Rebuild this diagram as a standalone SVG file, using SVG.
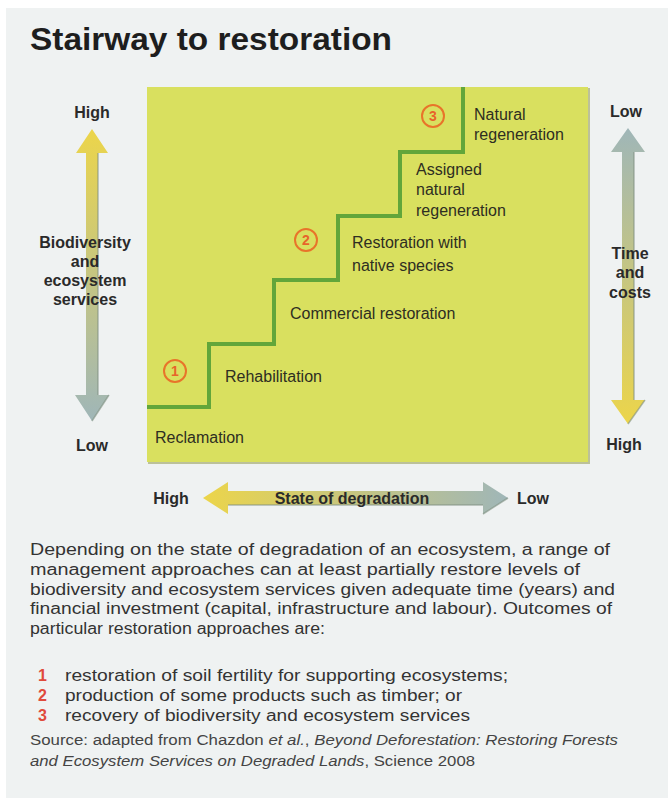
<svg xmlns="http://www.w3.org/2000/svg" width="668" height="798" viewBox="0 0 668 798">
<defs>
<style>
.lbl{font-family:"Liberation Sans",Arial,sans-serif;font-size:16px;fill:#2e2e22}
.ax{font-family:"Liberation Sans",Arial,sans-serif;font-size:16px;font-weight:bold;fill:#2a2a2a;text-anchor:middle}
.body{font-family:"Liberation Sans",Arial,sans-serif;font-size:16px;fill:#333}
.src{font-family:"Liberation Sans",Arial,sans-serif;font-size:14px;fill:#444}
.num{font-family:"Liberation Sans",Arial,sans-serif;font-size:16px;fill:#e04a3c;font-weight:bold}
.circ{fill:none;stroke:#e8742a;stroke-width:2}
.ctext{font-family:"Liberation Sans",Arial,sans-serif;font-size:14px;fill:#e8642a;text-anchor:middle;font-weight:bold}
.edge{fill:none;stroke:#7f8f80;stroke-width:1.5;opacity:0.6}
</style>
<linearGradient id="gUp" x1="0" y1="0" x2="0" y2="1">
<stop offset="0" stop-color="#ecd54a"/><stop offset="1" stop-color="#9fb6b8"/>
</linearGradient>
<linearGradient id="gDown" x1="0" y1="0" x2="0" y2="1">
<stop offset="0" stop-color="#9fb6b8"/><stop offset="1" stop-color="#ecd54a"/>
</linearGradient>
<linearGradient id="gH" x1="0" y1="0" x2="1" y2="0">
<stop offset="0" stop-color="#ecd54a"/><stop offset="1" stop-color="#9fb6b8"/>
</linearGradient>
</defs>
<rect x="0" y="0" width="668" height="798" fill="#ffffff"/>
<rect x="6" y="8" width="662" height="790" fill="#eff2f2"/>
<text x="30" y="50" style="font-family:'Liberation Sans',Arial,sans-serif;font-size:32px;font-weight:bold;fill:#1e1e1e" textLength="362" lengthAdjust="spacingAndGlyphs">Stairway to restoration</text>

<g id="panel">
<rect x="148" y="88" width="442" height="376" fill="#8a8f40" opacity="0.5"/>
<rect x="147" y="87" width="441" height="375" fill="#d9e05f"/>
</g>

<g id="connectors">
<path d="M147 407 H209 V344 H274 V280 H338 V216 H400 V152 H463 V87" fill="none" stroke="#62a63a" stroke-width="4"/>
<path id="bioArrow" d="M92 129 L108 153 L98 153 L98 395 L109 395 L92 421 L75 395 L86 395 L86 153 L76 153 Z" fill="url(#gUp)"/>
<path d="M98 153 L98 395 M109 395 L92 421" class="edge"/>
<path id="timeArrow" d="M628 128 L645 152 L634 152 L634 400 L645 400 L628 424 L611 400 L622 400 L622 152 L611 152 Z" fill="url(#gDown)"/>
<path d="M634 152 L634 400 M645 400 L628 424" class="edge"/>
<path id="degArrow" d="M203 498 L228 482 L228 491 L483 491 L483 482 L508 498 L483 514 L483 505 L228 505 L228 514 Z" fill="url(#gH)"/>
<path d="M228 505 L483 505 M508 498 L483 514" class="edge"/>
</g>

<g id="step1">
<circle class="circ" cx="175" cy="371" r="11"/>
<text class="ctext" x="175" y="376">1</text>
</g>
<g id="step2">
<circle class="circ" cx="306" cy="240" r="11"/>
<text class="ctext" x="306" y="245">2</text>
</g>
<g id="step3">
<circle class="circ" cx="433" cy="116" r="11"/>
<text class="ctext" x="433" y="121">3</text>
</g>

<g id="natural"><text class="lbl" x="474" y="120">Natural</text><text class="lbl" x="474" y="140">regeneration</text></g>
<g id="assigned"><text class="lbl" x="416" y="175">Assigned</text><text class="lbl" x="416" y="195">natural</text><text class="lbl" x="416" y="216">regeneration</text></g>
<g id="native"><text class="lbl" x="352" y="248">Restoration with</text><text class="lbl" x="352" y="271">native species</text></g>
<g id="commercial"><text class="lbl" x="290" y="319">Commercial restoration</text></g>
<g id="rehab"><text class="lbl" x="225" y="382">Rehabilitation</text></g>
<g id="reclam"><text class="lbl" x="155" y="443">Reclamation</text></g>

<g id="bioAxis">
<text class="ax" x="92" y="118">High</text>
<text class="ax" x="92" y="451">Low</text>
<text class="ax" x="85" y="248">Biodiversity</text>
<text class="ax" x="85" y="267">and</text>
<text class="ax" x="85" y="286">ecosystem</text>
<text class="ax" x="85" y="305">services</text>
</g>
<g id="timeAxis">
<text class="ax" x="626" y="117">Low</text>
<text class="ax" x="624" y="450">High</text>
<text class="ax" x="630" y="259">Time</text>
<text class="ax" x="630" y="278">and</text>
<text class="ax" x="630" y="298">costs</text>
</g>
<g id="degAxis">
<text class="ax" x="171" y="504">High</text>
<text class="ax" x="352" y="504">State of degradation</text>
<text class="ax" x="533" y="504">Low</text>
</g>

<g id="description">
<text class="body" x="30" y="555" textLength="580" lengthAdjust="spacingAndGlyphs">Depending on the state of degradation of an ecosystem, a range of</text>
<text class="body" x="30" y="575" textLength="550" lengthAdjust="spacingAndGlyphs">management approaches can at least partially restore levels of</text>
<text class="body" x="30" y="595" textLength="585" lengthAdjust="spacingAndGlyphs">biodiversity and ecosystem services given adequate time (years) and</text>
<text class="body" x="30" y="614" textLength="582" lengthAdjust="spacingAndGlyphs">financial investment (capital, infrastructure and labour). Outcomes of</text>
<text class="body" x="30" y="634" textLength="295" lengthAdjust="spacingAndGlyphs">particular restoration approaches are:</text>
</g>
<g id="list">
<text class="num" x="38" y="681">1</text><text class="body" x="65" y="681" textLength="443" lengthAdjust="spacingAndGlyphs">restoration of soil fertility for supporting ecosystems;</text>
<text class="num" x="38" y="701">2</text><text class="body" x="65" y="701" textLength="397" lengthAdjust="spacingAndGlyphs">production of some products such as timber; or</text>
<text class="num" x="38" y="721">3</text><text class="body" x="65" y="721" textLength="405" lengthAdjust="spacingAndGlyphs">recovery of biodiversity and ecosystem services</text>
</g>
<g id="source">
<text class="src" x="30" y="745" textLength="588" lengthAdjust="spacingAndGlyphs">Source: adapted from Chazdon <tspan font-style="italic">et al.</tspan>, <tspan font-style="italic">Beyond Deforestation: Restoring Forests</tspan></text>
<text class="src" x="30" y="766" textLength="445" lengthAdjust="spacingAndGlyphs"><tspan font-style="italic">and Ecosystem Services on Degraded Lands</tspan>, Science 2008</text>
</g>
</svg>
